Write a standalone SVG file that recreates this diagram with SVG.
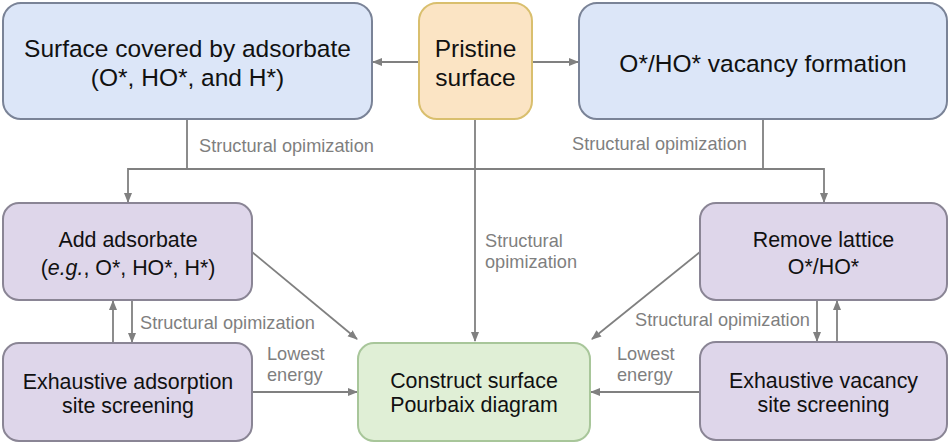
<svg xmlns="http://www.w3.org/2000/svg" width="952" height="445" viewBox="0 0 952 445">
<style>
.box{stroke-width:2}
.blue{fill:#dce6f8;stroke:#7a8397}
.orange{fill:#fbe4c4;stroke:#d9bf6e}
.purple{fill:#ded6ea;stroke:#8a8595}
.green{fill:#e0efd6;stroke:#a8c69a}
.t{font-family:"Liberation Sans",Arial,sans-serif;font-size:24.5px;fill:#111;text-anchor:middle}
.s{font-size:21.4px}
.lbl{font-family:"Liberation Sans",Arial,sans-serif;font-size:18.2px;fill:#7f7f7f}
.c{fill:none;stroke:#808080;stroke-width:1.8}
.a{marker-end:url(#ah)}
</style>
<defs>
<marker id="ah" viewBox="0 0 10 10" refX="9" refY="5" markerWidth="10" markerHeight="10" markerUnits="userSpaceOnUse" orient="auto">
<path d="M0,1 L10,5 L0,9 z" fill="#808080"/>
</marker>
</defs>
<rect width="952" height="445" fill="#fff"/>
<g id="connectors">
<path class="c a" d="M419,62 H373"/>
<path class="c a" d="M532,62 H578"/>
<path class="c" d="M187,120 V169 H763"/>
<path class="c a" d="M187,169 H128 V202"/>
<path class="c a" d="M763,120 V169 H824 V202"/>
<path class="c a" d="M475,120 V341"/>
<path class="c a" d="M113,343 V301"/>
<path class="c a" d="M132,300 V342"/>
<path class="c a" d="M817,300 V341"/>
<path class="c a" d="M837,342 V301"/>
<path class="c a" d="M252,252 L357,339"/>
<path class="c a" d="M700,252 L592,339"/>
<path class="c a" d="M252,392 H357"/>
<path class="c a" d="M700,392 H591"/>
</g>
<g id="labels">
<text class="lbl" x="199" y="152">Structural opimization</text>
<text class="lbl" x="572" y="150">Structural opimization</text>
<text class="lbl" x="485" y="247">Structural</text>
<text class="lbl" x="485" y="268">opimization</text>
<text class="lbl" x="140" y="329">Structural opimization</text>
<text class="lbl" x="635" y="326">Structural opimization</text>
<text class="lbl" x="267" y="360">Lowest</text>
<text class="lbl" x="267" y="381">energy</text>
<text class="lbl" x="617" y="360">Lowest</text>
<text class="lbl" x="617" y="381">energy</text>
</g>
<g id="surface-covered">
<rect class="box blue" x="3" y="3" width="369" height="116" rx="18"/>
<text class="t" x="187.5" y="57">Surface covered by adsorbate</text>
<text class="t" x="187.5" y="86">(O*, HO*, and H*)</text>
</g>
<g id="pristine">
<rect class="box orange" x="419" y="3" width="113" height="116" rx="18"/>
<text class="t" x="475.5" y="57">Pristine</text>
<text class="t" x="475.5" y="86">surface</text>
</g>
<g id="vacancy-formation">
<rect class="box blue" x="579" y="3" width="368" height="116" rx="18"/>
<text class="t" x="763" y="72">O*/HO* vacancy formation</text>
</g>
<g id="add-adsorbate">
<rect class="box purple" x="3" y="203" width="249" height="97" rx="16"/>
<text class="t s" x="128" y="247">Add adsorbate</text>
<text class="t s" x="128" y="275">(<tspan font-style="italic">e.g.</tspan>, O*, HO*, H*)</text>
</g>
<g id="exhaustive-adsorption">
<rect class="box purple" x="3" y="343" width="249" height="98" rx="16"/>
<text class="t s" x="128" y="389">Exhaustive adsorption</text>
<text class="t s" x="128" y="413">site screening</text>
</g>
<g id="construct">
<rect class="box green" x="358" y="343" width="232" height="98" rx="16"/>
<text class="t s" x="474" y="388">Construct surface</text>
<text class="t s" x="474" y="412">Pourbaix diagram</text>
</g>
<g id="remove-lattice">
<rect class="box purple" x="700" y="203" width="247" height="97" rx="16"/>
<text class="t s" x="823.5" y="247">Remove lattice</text>
<text class="t s" x="823.5" y="274">O*/HO*</text>
</g>
<g id="exhaustive-vacancy">
<rect class="box purple" x="700" y="342" width="247" height="98" rx="16"/>
<text class="t s" x="823.5" y="388">Exhaustive vacancy</text>
<text class="t s" x="823.5" y="412">site screening</text>
</g>
</svg>
